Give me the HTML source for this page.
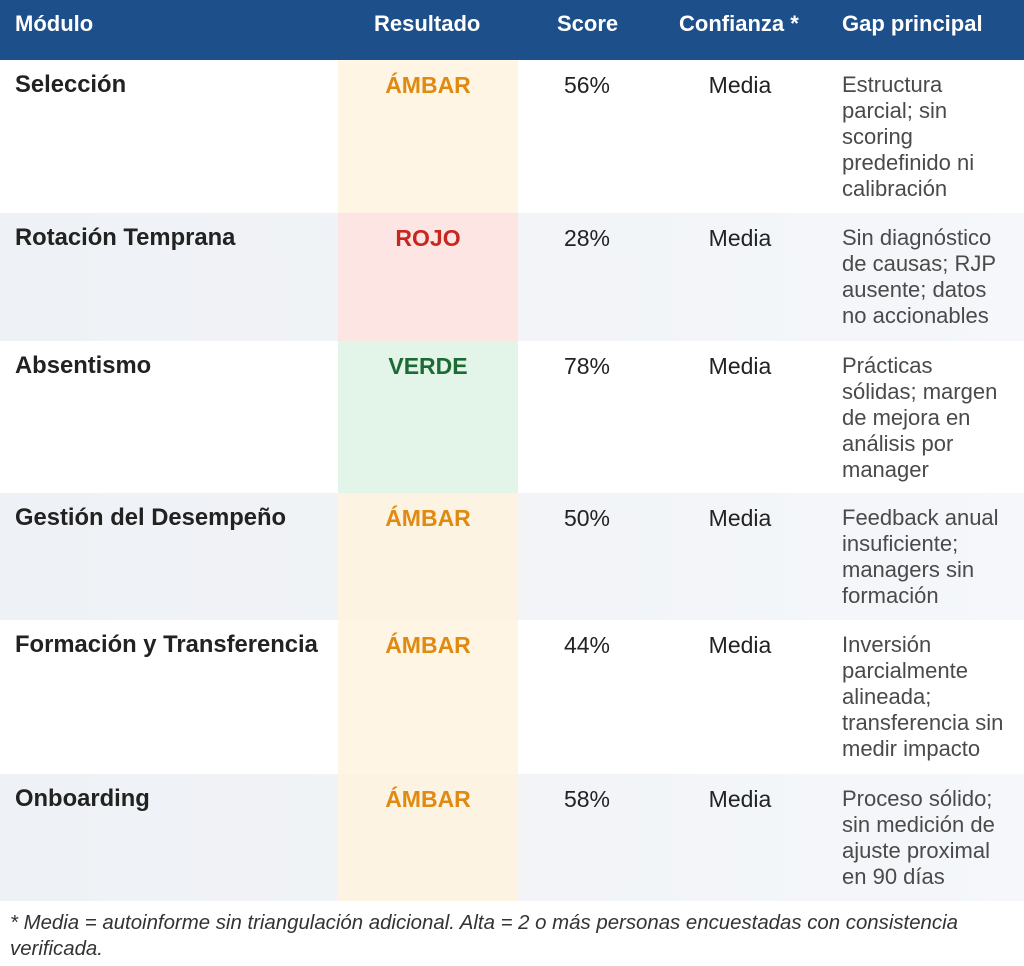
<!DOCTYPE html>
<html><head><meta charset="utf-8"><style>
body{margin:0;width:1024px;height:966px;background:#fff;font-family:"Liberation Sans",sans-serif;position:relative;overflow:hidden}
.hdr{position:absolute;left:0;top:0;width:1024px;height:60px;background:#1d4f8a}
.h{position:absolute;top:11px;color:#fff;font-weight:bold;font-size:22px}
.row{position:absolute;left:0;width:1024px}
.alt{background:linear-gradient(90deg,#eef1f5,#f5f7fa)}
.res{position:absolute;left:338px;width:180px;top:0;bottom:0}
.c{position:absolute;top:12px;font-size:23px;line-height:26px;color:#222;white-space:nowrap}
.mod{left:15px;font-weight:bold;font-size:23.8px}
.rt{left:338px;width:180px;text-align:center;font-weight:bold}
.sc{left:527px;width:120px;text-align:center}
.cf{left:680px;width:120px;text-align:center}
.gap{left:842px;color:#4a4a4a;font-size:22px}
.foot{position:absolute;left:10px;top:910px;font-size:20.4px;font-style:italic;color:#333;line-height:26px;width:1010px}
</style></head><body>
<div class="hdr">
<div class="h" style="left:15px">Módulo</div>
<div class="h" style="left:374px">Resultado</div>
<div class="h" style="left:557px">Score</div>
<div class="h" style="left:679px">Confianza *</div>
<div class="h" style="left:842px">Gap principal</div>
</div>

<div class="row" style="top:60px;height:153px">
<div class="res" style="background:#fef5e4"></div>
<div class="c mod">Selección</div>
<div class="c rt" style="color:#e08a12">ÁMBAR</div>
<div class="c sc">56%</div><div class="c cf">Media</div>
<div class="c gap">Estructura<br>parcial; sin<br>scoring<br>predefinido ni<br>calibración</div>
</div>

<div class="row alt" style="top:213px;height:128px">
<div class="res" style="background:#fde5e4"></div>
<div class="c mod">Rotación Temprana</div>
<div class="c rt" style="color:#c8271f">ROJO</div>
<div class="c sc">28%</div><div class="c cf">Media</div>
<div class="c gap">Sin diagnóstico<br>de causas; RJP<br>ausente; datos<br>no accionables</div>
</div>

<div class="row" style="top:341px;height:152px">
<div class="res" style="background:#e3f4e9"></div>
<div class="c mod">Absentismo</div>
<div class="c rt" style="color:#1d6b34">VERDE</div>
<div class="c sc">78%</div><div class="c cf">Media</div>
<div class="c gap">Prácticas<br>sólidas; margen<br>de mejora en<br>análisis por<br>manager</div>
</div>

<div class="row alt" style="top:493px;height:127px">
<div class="res" style="background:#fdf3e2"></div>
<div class="c mod">Gestión del Desempeño</div>
<div class="c rt" style="color:#e08a12">ÁMBAR</div>
<div class="c sc">50%</div><div class="c cf">Media</div>
<div class="c gap">Feedback anual<br>insuficiente;<br>managers sin<br>formación</div>
</div>

<div class="row" style="top:620px;height:154px">
<div class="res" style="background:#fef5e4"></div>
<div class="c mod">Formación y Transferencia</div>
<div class="c rt" style="color:#e08a12">ÁMBAR</div>
<div class="c sc">44%</div><div class="c cf">Media</div>
<div class="c gap">Inversión<br>parcialmente<br>alineada;<br>transferencia sin<br>medir impacto</div>
</div>

<div class="row alt" style="top:774px;height:127px">
<div class="res" style="background:#fdf3e2"></div>
<div class="c mod">Onboarding</div>
<div class="c rt" style="color:#e08a12">ÁMBAR</div>
<div class="c sc">58%</div><div class="c cf">Media</div>
<div class="c gap">Proceso sólido;<br>sin medición de<br>ajuste proximal<br>en 90 días</div>
</div>

<div class="foot">* Media = autoinforme sin triangulación adicional. Alta = 2 o más personas encuestadas con consistencia<br>verificada.</div>
</body></html>
